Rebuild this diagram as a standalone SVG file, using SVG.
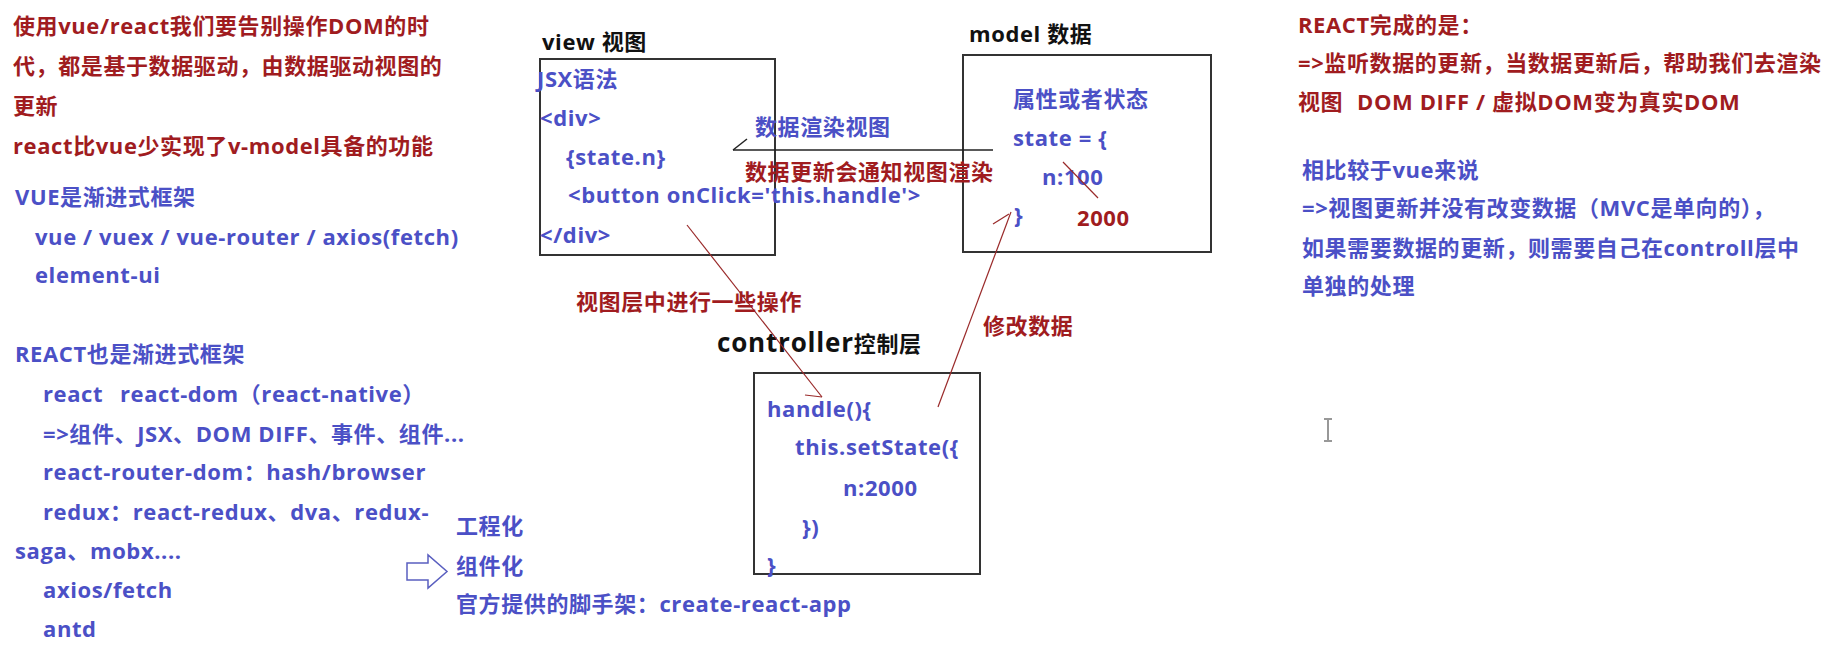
<svg xmlns="http://www.w3.org/2000/svg" width="1840" height="647" viewBox="0 0 1840 647">
<style>
text { font-family: "Open Sans", "Noto Sans CJK SC", sans-serif; font-weight: bold; font-size: 22px; letter-spacing: 0.6px; }
.r { fill: #a01c1f; }
.b { fill: #4b50c6; }
.k { fill: #111111; }
.box { fill: none; stroke: #333333; stroke-width: 2; }
.rl { fill: none; stroke: #9a2a2a; stroke-width: 1.2; }
.kl { fill: none; stroke: #222222; stroke-width: 1.5; }
</style>
<rect x="0" y="0" width="1840" height="647" fill="#ffffff"/>

<g id="intro">
<text class="r" x="13" y="34">使用vue/react我们要告别操作DOM的时</text>
<text class="r" x="13" y="74">代，都是基于数据驱动，由数据驱动视图的</text>
<text class="r" x="13" y="114">更新</text>
<text class="r" x="13" y="154">react比vue少实现了v-model具备的功能</text>
</g>

<g id="vue-list">
<text class="b" x="15" y="205">VUE是渐进式框架</text>
<text class="b" x="35" y="245">vue / vuex / vue-router / axios(fetch)</text>
<text class="b" x="35" y="283">element-ui</text>
</g>

<g id="react-list">
<text class="b" x="15" y="362">REACT也是渐进式框架</text>
<text class="b" x="43" y="402">react<tspan x="120">react-dom（react-native）</tspan></text>
<text class="b" x="43" y="442">=&gt;组件、JSX、DOM DIFF、事件、组件...</text>
<text class="b" x="43" y="480">react-router-dom：hash/browser</text>
<text class="b" x="43" y="520">redux：react-redux、dva、redux-</text>
<text class="b" x="15" y="559">saga、mobx....</text>
<text class="b" x="43" y="598">axios/fetch</text>
<text class="b" x="43" y="637">antd</text>
</g>

<g id="scaffold">
<path d="M407,563 L428,563 L428,555 L447,571.5 L428,588 L428,580 L407,580 Z" fill="#ffffff" stroke="#5a5fc0" stroke-width="1.5"/>
<text class="b" x="456" y="534">工程化</text>
<text class="b" x="456" y="574">组件化</text>
<text class="b" x="456" y="612">官方提供的脚手架：create-react-app</text>
</g>

<g id="view-node">
<text class="k" x="542" y="50">view 视图</text>
<rect class="box" x="540" y="59" width="235" height="196"/>
<text class="b" x="537" y="87">JSX语法</text>
<text class="b" x="540" y="126">&lt;div&gt;</text>
<text class="b" x="566" y="165">{state.n}</text>
<text class="b" x="568" y="203">&lt;button onClick='this.handle'&gt;</text>
<text class="b" x="540" y="243">&lt;/div&gt;</text>
</g>

<g id="model-node">
<text class="k" x="969" y="42">model 数据</text>
<rect class="box" x="963" y="55" width="248" height="197"/>
<text class="b" x="1013" y="107">属性或者状态</text>
<text class="b" x="1013" y="146">state = {</text>
<text class="b" x="1042" y="185">n:100</text>
<line class="rl" x1="1063" y1="162" x2="1098" y2="198"/>
<text class="b" x="1014" y="223">}</text>
<text class="r" x="1077" y="226">2000</text>
</g>

<g id="controller-node">
<text class="k" x="717" y="352"><tspan style="font-size:26px;letter-spacing:0.8px">controller</tspan>控制层</text>
<rect class="box" x="754" y="373" width="226" height="201"/>
<text class="b" x="767" y="417">handle(){</text>
<text class="b" x="795" y="455">this.setState({</text>
<text class="b" x="843" y="496">n:2000</text>
<text class="b" x="802" y="535">})</text>
<text class="b" x="767" y="573">}</text>
</g>

<g id="connectors">
<line class="kl" x1="733" y1="150" x2="993" y2="150"/>
<line class="kl" x1="733" y1="150" x2="747" y2="139" stroke-width="1"/>
<text class="b" x="755" y="135">数据渲染视图</text>
<text class="r" x="745" y="180">数据更新会通知视图渲染</text>
<line class="rl" x1="687" y1="225" x2="822" y2="397"/>
<line class="rl" x1="805" y1="395" x2="822" y2="397"/>
<text class="r" x="576" y="310">视图层中进行一些操作</text>
<line class="rl" x1="938" y1="407" x2="1011" y2="212"/>
<line class="rl" x1="993" y1="224" x2="1009" y2="214"/>
<text class="r" x="983" y="334">修改数据</text>
</g>

<g id="react-summary">
<text class="r" x="1298" y="33">REACT完成的是：</text>
<text class="r" x="1298" y="71">=&gt;监听数据的更新，当数据更新后，帮助我们去渲染</text>
<text class="r" x="1298" y="110">视图<tspan x="1357">DOM DIFF / 虚拟DOM变为真实DOM</tspan></text>
<text class="b" x="1302" y="178">相比较于vue来说</text>
<text class="b" x="1302" y="216">=&gt;视图更新并没有改变数据（MVC是单向的），</text>
<text class="b" x="1302" y="256">如果需要数据的更新，则需要自己在controll层中</text>
<text class="b" x="1302" y="294">单独的处理</text>
</g>

<g id="cursor">
<path d="M1328,420 L1328,440 M1324,419 L1332,419 M1324,441 L1332,441" fill="none" stroke="#777777" stroke-width="1.5"/>
</g>
</svg>
